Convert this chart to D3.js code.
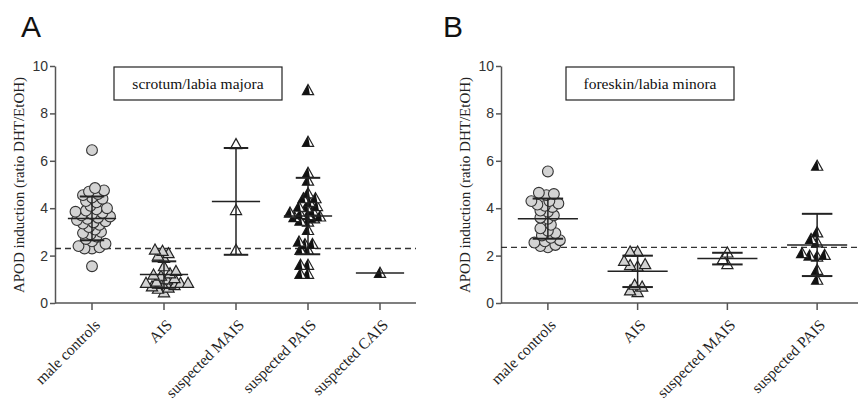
<!DOCTYPE html>
<html lang="en">
<head>
<meta charset="utf-8">
<script src="https://d3js.org/d3.v7.min.js"></script>
<style>
  body { margin: 0; background: #fff; }
</style>
</head>
<body>
<svg width="858" height="399"></svg>
<script>
// ---- data ----
var catsA = ["male controls", "AIS", "suspected MAIS", "suspected PAIS", "suspected CAIS"];
var catsB = ["male controls", "AIS", "suspected MAIS", "suspected PAIS"];
var yTicks = [0, 2, 4, 6, 8, 10];
var cutoffA = 2.3, cutoffB = 2.35;

var controlsA = [6.45, 4.85, 4.75, 4.7, 4.6, 4.55, 4.45, 4.4, 4.3, 4.25, 4.1, 4.0, 3.95, 3.9, 3.85, 3.8,
  3.75, 3.7, 3.65, 3.6, 3.55, 3.5, 3.45, 3.4, 3.35, 3.3, 3.2, 3.1, 3.0, 2.95, 2.9, 2.8, 2.7, 2.6,
  2.5, 2.4, 2.35, 2.3, 2.3, 1.55];
var aisA = [2.1, 2.25, 2.2, 2.0, 1.9, 1.55, 1.15, 1.25, 1.35, 1.2, 0.9, 0.85, 1.05, 0.85, 0.85,
  0.7, 0.45, 0.65, 0.75, 1.0, 0.8, 0.6];
var maisA = [6.7, 3.92, 2.24];
var paisA = [8.98, 6.8, 5.49, 5.16, 4.42, 4.63, 4.42, 4.09, 4.27, 4.06, 4.04, 3.81, 3.62, 3.71, 3.57,
  3.47, 3.43, 3.08, 2.49, 2.59, 2.48, 2.24, 2.24, 1.61, 1.61, 1.23, 1.23, 3.9, 3.75, 3.65];
var caisA = [1.27];

var controlsB = [5.55, 4.65, 4.6, 4.55, 4.3, 4.3, 4.2, 4.15, 4.1, 4.05, 3.9, 3.85, 3.7, 3.6, 3.55,
  3.3, 3.15, 3.05, 2.95, 2.85, 2.75, 2.65, 2.6, 2.55, 2.45, 2.4, 2.35];
var aisB = [2.17, 2.17, 1.6, 1.78, 1.54, 1.64, 0.69, 0.77, 0.46, 0.53];
var maisB = [2.13, 1.64, 1.85];
var paisB = [5.79, 2.7, 2.56, 2.98, 2.0, 2.1, 1.96, 2.03, 1.4, 0.98];

// marker style per group
var markA = ["circle", "triGray", "triWhite", "triHalf", "triHalf"];
var markB = ["circle", "triGray", "triWhite", "triHalf"];

var SERIF = "Liberation Serif, Times New Roman, serif";
var SANS = "Liberation Sans, Arial, sans-serif";
var svg = d3.select("svg");

function beeswarm(vals, cx, y, minDist) {
  var order = vals.map(function (v, i) { return { v: v, i: i }; })
    .sort(function (a, b) { return a.v - b.v; });
  var placed = [];
  order.forEach(function (p) {
    var py = y(p.v), k = 0, dx = 0;
    while (true) {
      dx = (k % 2 === 0 ? 1 : -1) * Math.ceil(k / 2) * 1.5;
      var ok = placed.every(function (q) {
        return Math.hypot(q.x - (cx + dx), q.y - py) >= minDist;
      });
      if (ok) break;
      k++;
    }
    placed.push({ x: cx + dx, y: py, v: p.v });
  });
  return placed;
}

function drawPanel(opt) {
  var y = d3.scaleLinear().domain([0, 10]).range([303, 66]);
  var x = d3.scaleBand().domain(opt.cats).range(opt.xr);
  var g = svg.append("g");

  // panel letter
  g.append("text").attr("x", opt.letterX).attr("y", 37)
    .attr("font-family", SANS)
    .attr("font-size", 30).attr("fill", "#111").text(opt.letter);

  // y axis
  var yAx = g.append("g").attr("transform", "translate(" + opt.axX + ",0)")
    .call(d3.axisLeft(y).tickValues(yTicks).tickSize(5).tickSizeOuter(0));
  yAx.select(".domain").attr("stroke", "#555").attr("stroke-width", 1.5);
  yAx.selectAll(".tick line").attr("stroke", "#555").attr("stroke-width", 1.5);
  yAx.selectAll(".tick text").attr("x", -7)
    .attr("font-family", SANS).attr("font-size", 14).attr("fill", "#333");

  // x axis
  var xAx = g.append("g").attr("transform", "translate(0,303)")
    .call(d3.axisBottom(x).tickSize(7).tickSizeOuter(0));
  xAx.select(".domain").attr("d", "M" + opt.axX + ",0H" + opt.xEnd)
    .attr("stroke", "#555").attr("stroke-width", 1.5);
  xAx.selectAll(".tick line").attr("stroke", "#555").attr("stroke-width", 1.5);
  xAx.selectAll(".tick text")
    .attr("font-family", SERIF)
    .attr("font-size", 15.5).attr("fill", "#222")
    .attr("text-anchor", "end")
    .attr("transform", "translate(9,23) rotate(-45)")
    .attr("x", 0).attr("y", 0).attr("dy", 0);

  // y label
  g.append("text").attr("font-family", SERIF)
    .attr("transform", "translate(" + opt.ylabX + ",185) rotate(-90)")
    .attr("text-anchor", "middle").attr("font-size", 15).attr("fill", "#222")
    .text("APOD induction (ratio DHT/EtOH)");

  // legend box
  g.append("rect").attr("x", opt.box[0]).attr("y", 67).attr("width", opt.box[1]).attr("height", 33)
    .attr("fill", "#fff").attr("stroke", "#222").attr("stroke-width", 1.2);
  g.append("text").attr("font-family", SERIF)
    .attr("x", opt.box[0] + opt.box[1] / 2).attr("y", 89)
    .attr("text-anchor", "middle").attr("font-size", 15.5).attr("fill", "#111")
    .text(opt.title);

  // cutoff
  g.append("line").attr("x1", opt.axX).attr("x2", opt.xEnd)
    .attr("y1", y(opt.cutoff)).attr("y2", y(opt.cutoff))
    .attr("stroke", "#333").attr("stroke-width", 1.3).attr("stroke-dasharray", "6,4");

  var bw = x.bandwidth();
  opt.groups.forEach(function (vals, gi) {
    var cx = x(opt.cats[gi]) + bw / 2;
    var pts = beeswarm(vals, cx, y, opt.minDist);
    var kind = opt.marks[gi];
    var s = 5.6;
    pts.forEach(function (p) {
      if (kind === "circle") {
        g.append("circle").attr("cx", p.x).attr("cy", p.y).attr("r", 5.4)
          .attr("fill", "#d3d3d3").attr("stroke", "#333").attr("stroke-width", 1.1);
      } else {
        var tri = [[p.x, p.y - s], [p.x - s, p.y + s * 0.8], [p.x + s, p.y + s * 0.8]];
        var fill = kind === "triGray" ? "#d3d3d3" : "#fff";
        g.append("polygon").attr("points", tri.join(" "))
          .attr("fill", fill).attr("stroke", "#222").attr("stroke-width", 1.2)
          .attr("stroke-linejoin", "miter");
        if (kind === "triHalf") {
          var half = [[p.x, p.y - s], [p.x - s, p.y + s * 0.8], [p.x + s * 0.35, p.y + s * 0.8]];
          g.append("polygon").attr("points", half.join(" ")).attr("fill", "#111");
        }
      }
    });

    // mean and SD
    var m = d3.mean(vals);
    var half = bw * 0.335, cap = bw * 0.17;
    if (vals.length > 1) {
      var sd = d3.deviation(vals);
      g.append("line").attr("x1", cx).attr("x2", cx).attr("y1", y(m + sd)).attr("y2", y(m - sd))
        .attr("stroke", "#222").attr("stroke-width", 1.5);
      [m + sd, m - sd].forEach(function (v) {
        g.append("line").attr("x1", cx - cap).attr("x2", cx + cap).attr("y1", y(v)).attr("y2", y(v))
          .attr("stroke", "#222").attr("stroke-width", 2);
      });
    }
    g.append("line").attr("x1", cx - half).attr("x2", cx + half).attr("y1", y(m)).attr("y2", y(m))
      .attr("stroke", "#222").attr("stroke-width", 1.5);
  });
}

drawPanel({
  letter: "A", letterX: 21, axX: 55, xr: [56, 416], xEnd: 416, ylabX: 24,
  cats: catsA, groups: [controlsA, aisA, maisA, paisA, caisA], marks: markA,
  box: [114, 168], title: "scrotum/labia majora", cutoff: cutoffA, minDist: 6.2
});
drawPanel({
  letter: "B", letterX: 443, axX: 501, xr: [503, 862], xEnd: 858, ylabX: 470,
  cats: catsB, groups: [controlsB, aisB, maisB, paisB], marks: markB,
  box: [566, 168], title: "foreskin/labia minora", cutoff: cutoffB, minDist: 6.5
});
</script>
</body>
</html>
